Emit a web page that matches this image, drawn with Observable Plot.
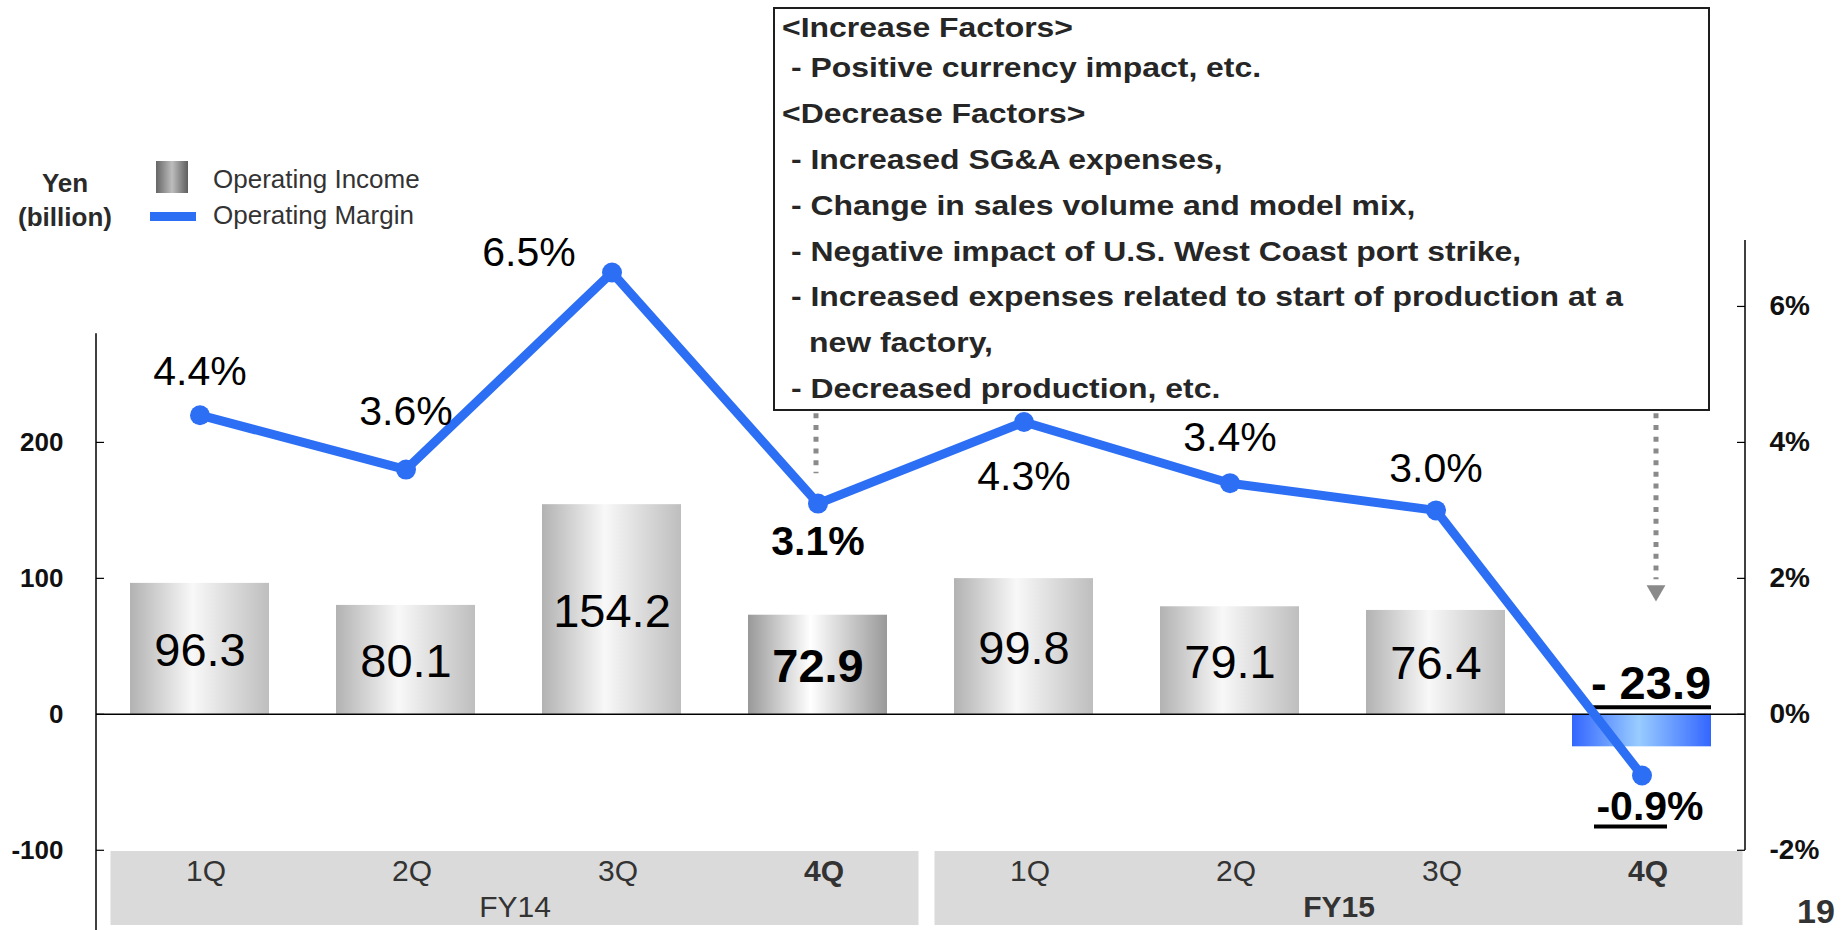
<!DOCTYPE html>
<html><head><meta charset="utf-8">
<script src="https://cdn.jsdelivr.net/npm/d3@7"></script>
<script src="https://cdn.jsdelivr.net/npm/@observablehq/plot@0.6"></script>
<style>
html,body{margin:0;padding:0;background:#fff;overflow:hidden;}
#wrap{position:relative;width:1843px;height:930px;font-family:"Liberation Sans",Arial,sans-serif;}
#chart svg{display:block}
.abs{position:absolute;white-space:pre;}
</style></head><body><div id="wrap"><div id="chart"></div></div>
<script>
// ---- data ----
const fiscalYears = ["FY14","FY14","FY14","FY14","FY15","FY15","FY15","FY15"];
const quarters = ["1Q","2Q","3Q","4Q","1Q","2Q","3Q","4Q"];
const operatingIncome = [96.3, 80.1, 154.2, 72.9, 99.8, 79.1, 76.4, -23.9];   // Yen billion
const operatingMargin = [4.4, 3.6, 6.5, 3.1, 4.3, 3.4, 3.0, -0.9];            // %
const leftTicks = [-100, 0, 100, 200];
const rightTicks = [-2, 0, 2, 4, 6];
const marginToYen = 50;          // 2% on the right axis lines up with 100 on the left
const emphasized = ["FY14-4Q", "FY15-4Q"];
const fyGroups = ["FY14", "FY15"];
const boxLines = [
  {text: "<Increase Factors>", indent: 0},
  {text: "- Positive currency impact, etc.", indent: 1},
  {text: "<Decrease Factors>", indent: 0},
  {text: "- Increased SG&A expenses,", indent: 1},
  {text: "- Change in sales volume and model mix,", indent: 1},
  {text: "- Negative impact of U.S. West Coast port strike,", indent: 1},
  {text: "- Increased expenses related to start of production at a", indent: 1},
  {text: "new factory,", indent: 2},
  {text: "- Decreased production, etc.", indent: 1}
];

// ---- layout ----
const W = 1843, H = 930, mL = 96, mR = 98, mT = 240, mB = 0;
const frameW = W - mL - mR;
const step = frameW / quarters.length;
const marginLabelPos = [[0,-43],[0,-58],[-83,-20],[0,38],[0,55],[0,-45],[0,-42],[8,31]];
const blue = "#2d6ff4";
const font = "'Liberation Sans', Arial, sans-serif";

const rows = quarters.map((q, i) => ({
  key: fiscalYears[i] + "-" + q, fy: fiscalYears[i], q,
  income: operatingIncome[i], margin: operatingMargin[i],
  marginY: operatingMargin[i] * marginToYen
}));
const isEmph = d => emphasized.includes(d.key);
const normalBars = rows.filter(d => !isEmph(d));
const darkBars = rows.filter(d => isEmph(d) && d.income >= 0);
const negBars = rows.filter(d => d.income < 0);

const plot = Plot.plot({
  width: W, height: H, marginLeft: mL, marginRight: mR, marginTop: mT, marginBottom: mB,
  x: {domain: rows.map(d => d.key), paddingInner: 0.325, paddingOuter: 0.1625, axis: null},
  y: {domain: [-159, 348.5], axis: null},
  style: {fontFamily: font, background: "#fff", color: "#000", overflow: "visible"},
  marks: [
    Plot.barY(normalBars, {x: "key", y: "income", fill: "url(#gGray)"}),
    Plot.barY(darkBars, {x: "key", y: "income", fill: "url(#gDark)"}),
    Plot.barY(negBars, {x: "key", y: "income", fill: "url(#gBlue)"}),
    Plot.ruleY([0], {stroke: "#000", strokeWidth: 1.5}),
    // axis ticks (inward)
    Plot.tickY(leftTicks, {y: d => d, insetRight: frameW - 8, stroke: "#000", strokeWidth: 1.2}),
    Plot.tickY(rightTicks.map(p => p * marginToYen), {y: d => d, insetLeft: frameW - 8, stroke: "#000", strokeWidth: 1.2}),
    Plot.axisY({anchor: "left", ticks: leftTicks, tickSize: 0, tickPadding: 33, tickFormat: d => String(d),
      fontSize: 26, fontWeight: "bold", fill: "#111", label: null}),
    Plot.axisY({anchor: "right", ticks: rightTicks.map(p => p * marginToYen), tickSize: 0, tickPadding: 24,
      tickFormat: d => String(d / marginToYen) + "%", fontSize: 28, fontWeight: "bold", fill: "#111", label: null}),
    // bar values
    Plot.text(normalBars, {x: "key", y: d => d.income / 2, text: d => d.income.toFixed(1), dy: 2, fontSize: 47, fill: "#000"}),
    Plot.text(darkBars, {x: "key", y: d => d.income / 2, text: d => d.income.toFixed(1), dy: 2, fontSize: 47, fontWeight: "bold", fill: "#000"}),
    Plot.text(negBars, {x: "key", y: d => 0, text: d => "- " + Math.abs(d.income).toFixed(1), dy: -30, dx: 9, fontSize: 47, fontWeight: "bold", fill: "#000"}),
    Plot.tickY(negBars, {x: "key", y: d => 0, dy: -7, insetLeft: 17, stroke: "#000", strokeWidth: 4}),
    // margin line
    Plot.line(rows, {x: "key", y: "marginY", stroke: blue, strokeWidth: 9}),
    Plot.dot(rows, {x: "key", y: "marginY", r: 10, fill: blue}),
    ...rows.map((d, i) => Plot.text([d], {x: "key", y: "marginY", text: r => r.margin.toFixed(1) + "%",
      dx: marginLabelPos[i][0], dy: marginLabelPos[i][1], fontSize: 41,
      fontWeight: isEmph(d) ? "bold" : "normal", fill: "#000"})),
    Plot.tickY(negBars, {x: "key", y: "marginY", dy: 51, insetLeft: 22, insetRight: 44, stroke: "#000", strokeWidth: 4}),
    // dotted pointers from the box
    Plot.ruleX([rows[3]], {x: "key", y1: d => 221, y2: d => 177, dx: -2, stroke: "#8a8a8a", strokeWidth: 5, strokeDasharray: "5 6.7"}),
    Plot.ruleX([rows[7]], {x: "key", y1: d => 221, y2: d => 99, dx: 14, stroke: "#8a8a8a", strokeWidth: 5, strokeDasharray: "5 6.7"}),
    Plot.dot([rows[7]], {x: "key", y: d => 91, dx: 14, symbol: "triangle", rotate: 180, r: 7, fill: "#8a8a8a"}),
    // category labels
    Plot.text(rows.filter(d => !isEmph(d)), {x: "key", text: "q", frameAnchor: "bottom", lineAnchor: "middle", dy: -59, dx: 6, fontSize: 30, fill: "#333"}),
    Plot.text(rows.filter(isEmph), {x: "key", text: "q", frameAnchor: "bottom", lineAnchor: "middle", dy: -59, dx: 6, fontSize: 30, fontWeight: "bold", fill: "#333"}),
    Plot.text([rows[1]], {x: "key", text: d => d.fy, frameAnchor: "bottom", lineAnchor: "middle", dy: -23, dx: step / 2 + 6, fontSize: 30, fill: "#333"}),
    Plot.text([rows[5]], {x: "key", text: d => d.fy, frameAnchor: "bottom", lineAnchor: "middle", dy: -23, dx: step / 2 + 6, fontSize: 30, fontWeight: "bold", fill: "#333"})
  ]
});

// gradients
const svg = d3.select(plot);
const defs = svg.insert("defs", ":first-child");
function grad(id, stops) {
  const g = defs.append("linearGradient").attr("id", id).attr("x1", 0).attr("x2", 1).attr("y1", 0).attr("y2", 0);
  stops.forEach(([o, c]) => g.append("stop").attr("offset", o).attr("stop-color", c));
}
grad("gGray", [[0, "#b2b2b2"], [0.45, "#f8f8f8"], [1, "#bebebe"]]);
grad("gDark", [[0, "#999999"], [0.45, "#ffffff"], [1, "#999999"]]);
grad("gBlue", [[0, "#3366ff"], [0.48, "#99ccff"], [1, "#3366ff"]]);

// category-axis background bands and axis lines, placed with the plot's scales
const xs = plot.scale("x"), ys = plot.scale("y");
const bw = xs.bandwidth, st = xs.step;
const bg = svg.insert("g", "g");
fyGroups.forEach(fy => {
  const ks = rows.filter(d => d.fy === fy).map(d => d.key);
  const x0 = xs.apply(ks[0]) + bw / 2 - st / 2 + 14;
  const x1 = xs.apply(ks[ks.length - 1]) + bw / 2 + st / 2 - 2;
  bg.append("rect").attr("x", x0).attr("width", x1 - x0).attr("y", H - 79).attr("height", 74).attr("fill", "#dadada");
});
const axes = svg.append("g").attr("stroke", "#000").attr("stroke-width", 1.5);
axes.append("line").attr("x1", xs.range[0]).attr("x2", xs.range[0]).attr("y1", ys.apply(280)).attr("y2", H);
axes.append("line").attr("x1", xs.range[1]).attr("x2", xs.range[1]).attr("y1", mT).attr("y2", H - 80);

const wrap = document.getElementById("wrap");
document.getElementById("chart").append(plot);

function addDiv(css, text, parent = wrap) {
  const el = document.createElement("div");
  el.className = "abs";
  el.style.cssText += css;
  el.textContent = text;
  parent.append(el);
  return el;
}
// legend
addDiv("left:0;top:166px;width:130px;text-align:center;font-weight:bold;font-size:26px;line-height:34px;color:#2a2a2a;", "Yen\n(billion)");
addDiv("left:156px;top:161px;width:32px;height:32px;background:linear-gradient(to right,#666,#bdbdbd 50%,#5e5e5e);", "");
addDiv("left:150px;top:212px;width:46px;height:9px;background:" + blue + ";", "");
addDiv("left:213px;top:162px;font-size:26px;line-height:34px;color:#333;", "Operating Income");
addDiv("left:213px;top:198px;font-size:26px;line-height:34px;color:#333;", "Operating Margin");
// annotation box
const box = addDiv("left:773px;top:7px;width:937px;height:404px;box-sizing:border-box;border:2px solid #1e1e1e;background:#fff;", "");
const lineCenters = [19, 59, 105, 151, 197, 243, 288, 334, 380];
const indents = [7, 16, 34];
boxLines.forEach((l, i) => {
  addDiv(`left:${indents[l.indent]}px;top:${lineCenters[i] - 20}px;line-height:40px;font-size:28px;font-weight:bold;transform:scaleX(1.14);transform-origin:0 50%;color:#262626;`, l.text, box);
});
// page number
addDiv("left:1790px;top:890px;width:52px;text-align:center;font-size:34px;line-height:42px;font-weight:bold;color:#333;", "19");
</script></body></html>
